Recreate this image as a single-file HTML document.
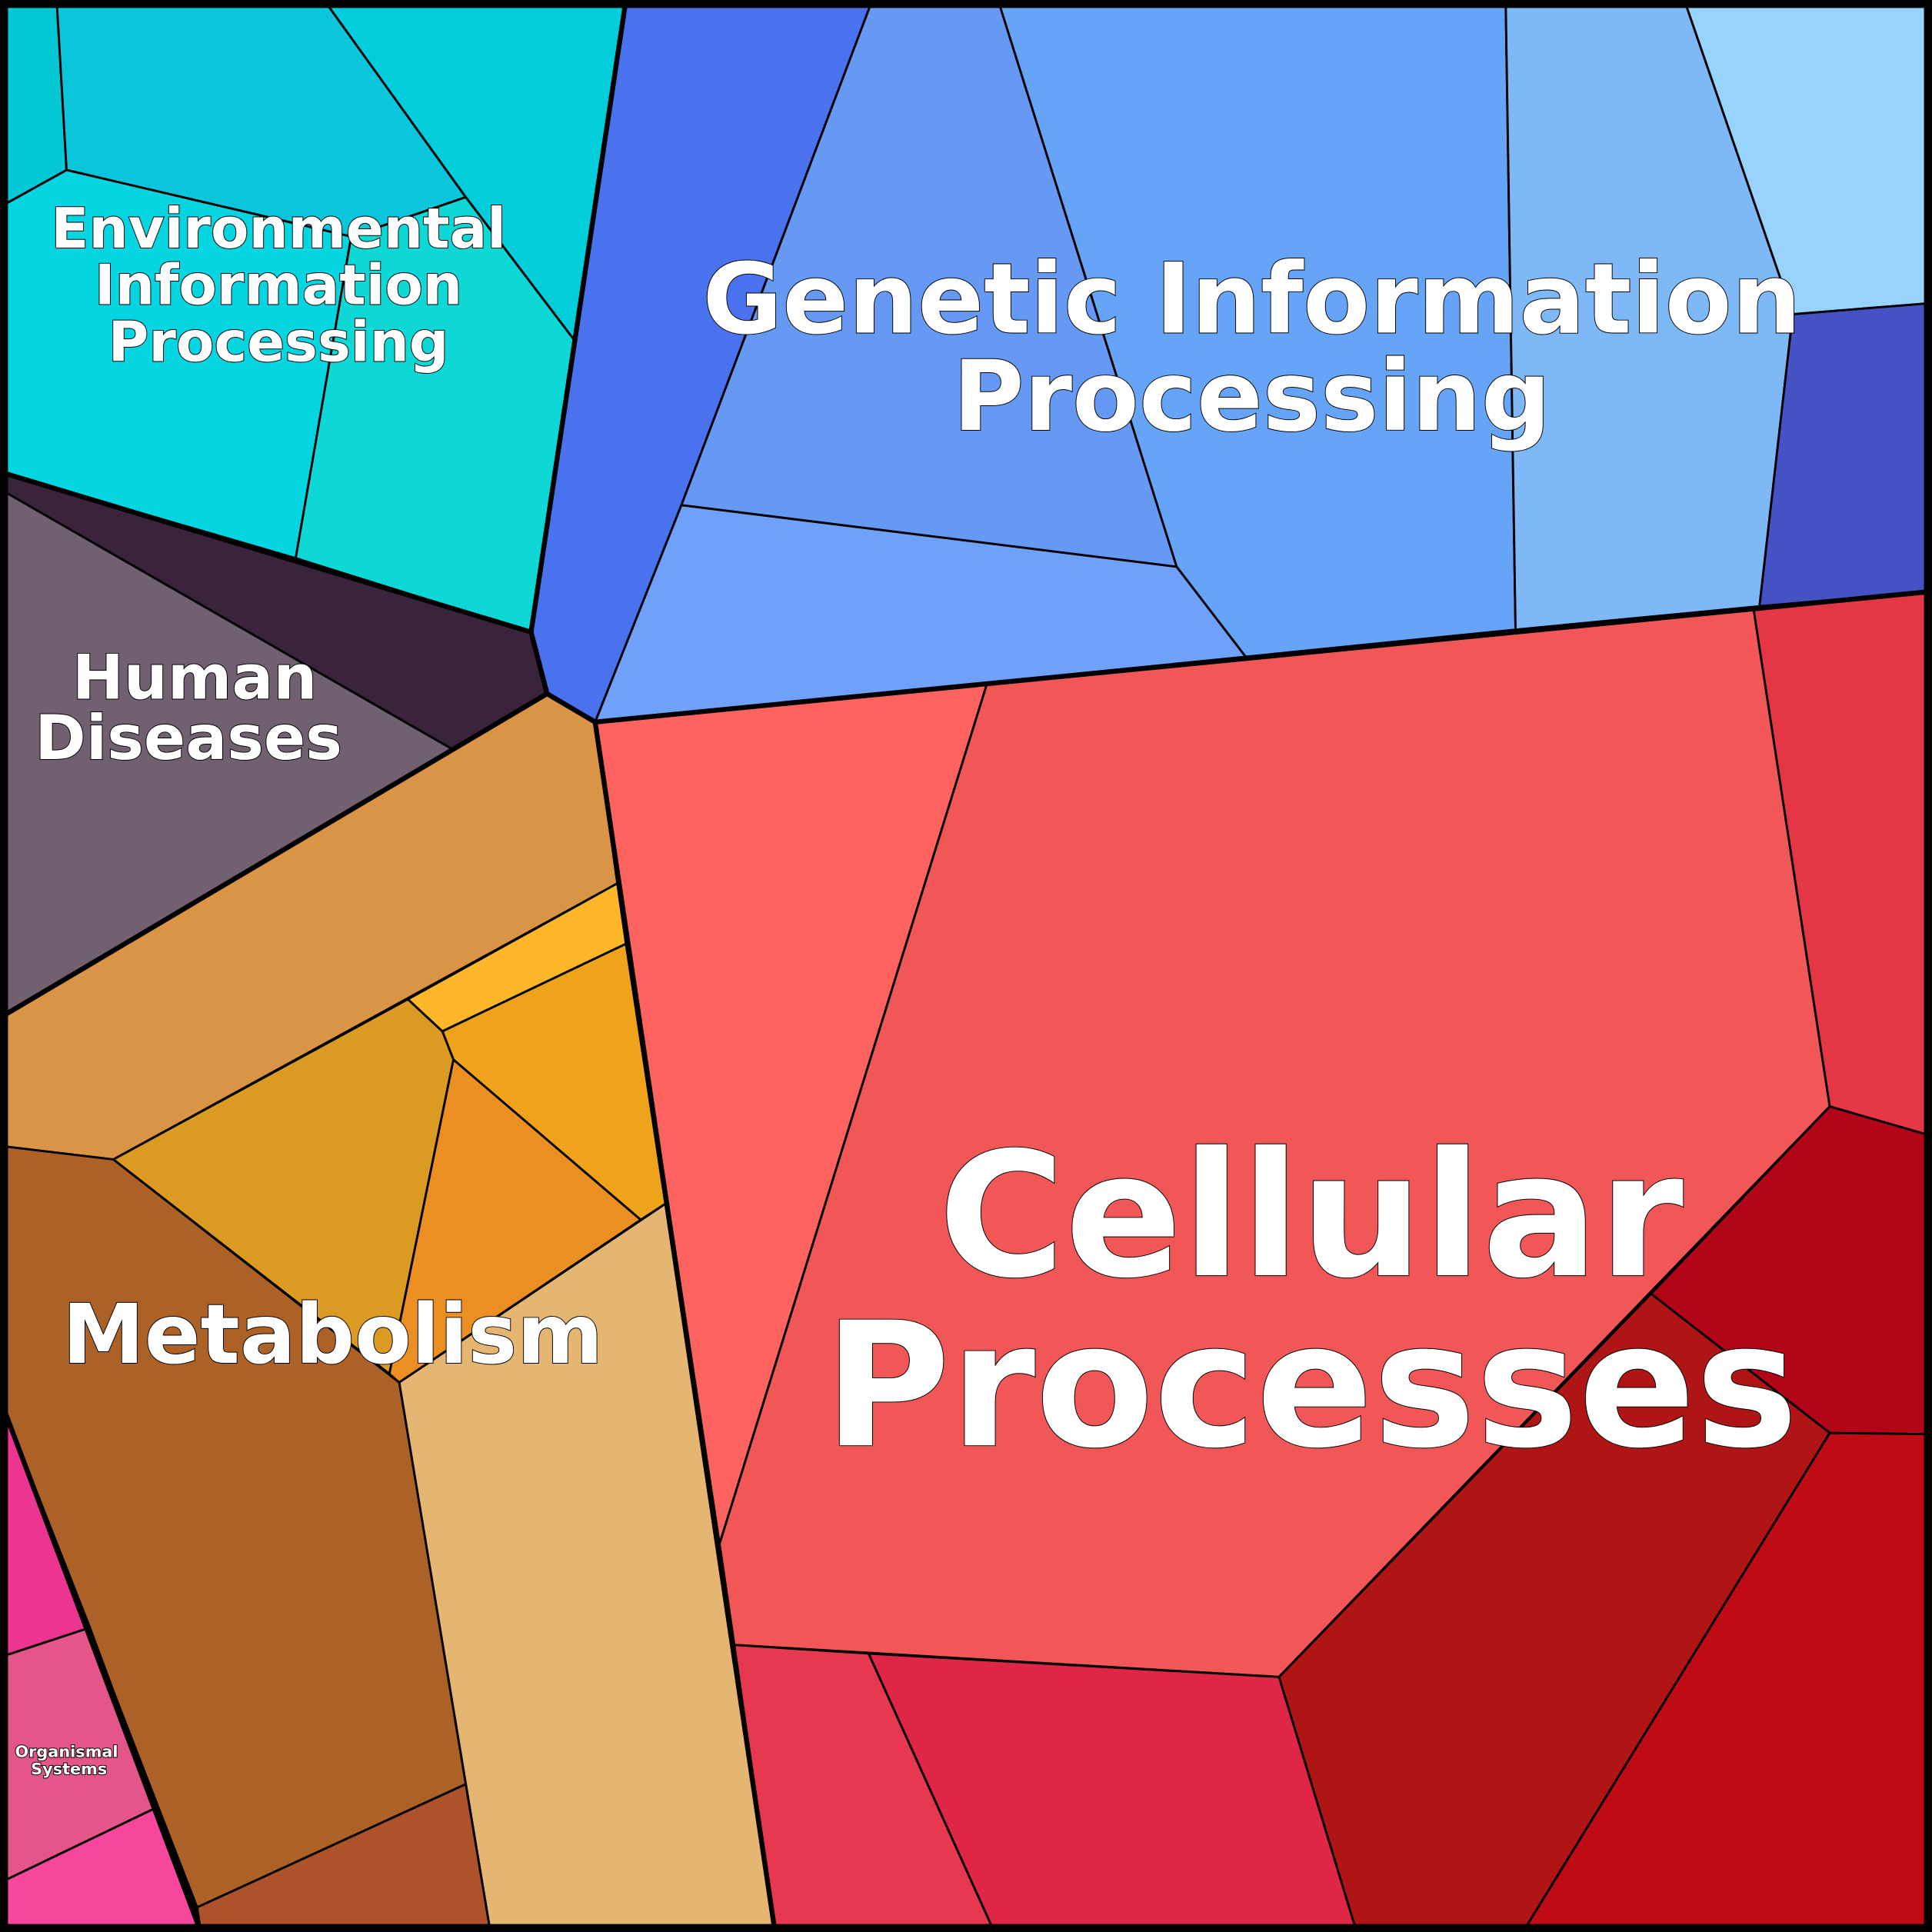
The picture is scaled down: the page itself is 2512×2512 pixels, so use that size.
<!DOCTYPE html>
<html><head><meta charset="utf-8"><style>
html,body{margin:0;padding:0;background:#000}
svg{display:block}
text{font-family:"DejaVu Sans","Liberation Sans",sans-serif;font-weight:bold;fill:#fff;stroke:#000;stroke-width:1.2;paint-order:stroke;text-anchor:middle}
</style></head><body>
<svg width="2512" height="2512" viewBox="0 0 1568 1568" xmlns="http://www.w3.org/2000/svg">
<g stroke="#000" stroke-width="1.8" stroke-linejoin="round">
<polygon fill="#05c8d6" points="0,0 46,0 54,138 0,168"/>
<polygon fill="#0bc5db" points="46,0 263,0 378,160 285,192 54,138"/>
<polygon fill="#02cdda" points="263,0 508,0 466,276 378,160"/>
<polygon fill="#05d5e0" points="0,168 54,138 285,192 240,453 0,383"/>
<polygon fill="#0dd8d5" points="378,160 466,276 431,513 240,453 285,192"/>
<polygon fill="#3a243c" points="0,383 431,513 444,563 367,608 0,397"/>
<polygon fill="#706070" points="0,397 367,608 0,826"/>
<polygon fill="#4a72ee" points="508,0 708,0 553,410 483,586 444,563 431,513"/>
<polygon fill="#6599f4" points="708,0 810,0 955,460 553,410"/>
<polygon fill="#70a1fa" points="553,410 955,460 1011,533 483,586"/>
<polygon fill="#66a4f8" points="810,0 1222,0 1230,511 1011,533 955,460"/>
<polygon fill="#7eb8f6" points="1222,0 1367,0 1455,255 1428,492 1230,511"/>
<polygon fill="#98d3fe" points="1367,0 1568,0 1568,246 1455,255"/>
<polygon fill="#4452c4" points="1455,255 1568,246 1568,480 1428,492"/>
<polygon fill="#fe6360" points="483,586 801,555 584,1253"/>
<polygon fill="#f25757" points="801,555 1423,493 1485,898 1038,1361 596,1335 584,1253"/>
<polygon fill="#e43645" points="1423,493 1568,480 1568,922 1485,898"/>
<polygon fill="#b30518" points="1485,898 1568,922 1568,1164 1485,1163 1340,1050"/>
<polygon fill="#b01515" points="1340,1050 1485,1163 1236,1568 1101,1568 1038,1361"/>
<polygon fill="#c00a16" points="1485,1163 1568,1164 1568,1568 1236,1568"/>
<polygon fill="#e83850" points="596,1335 705,1342 807,1568 629,1568"/>
<polygon fill="#e02646" points="705,1342 1038,1361 1101,1568 807,1568"/>
<polygon fill="#da9446" points="0,826 444,563 483,586 501,717 92,941 0,930"/>
<polygon fill="#feb728" points="501,717 508,766 359,837 331,811"/>
<polygon fill="#eea31a" points="508,766 540,977 520,990 368,860 359,837"/>
<polygon fill="#db9a22" points="331,811 359,837 368,860 316,1115 92,941"/>
<polygon fill="#eb8f22" points="368,860 520,990 324,1122 316,1115"/>
<polygon fill="#e5b672" points="540,977 629,1568 398,1568 324,1122"/>
<polygon fill="#ac6227" points="0,930 92,941 324,1122 378,1448 160,1548 0,1135"/>
<polygon fill="#ae522c" points="160,1548 378,1448 398,1568 163,1568"/>
<polygon fill="#ec3590" points="0,1135 73,1321 0,1345"/>
<polygon fill="#e4568a" points="0,1345 73,1321 127,1467 0,1528"/>
<polygon fill="#f7479d" points="0,1528 127,1467 163,1568 0,1568"/>
</g>
<g fill="none" stroke="#000" stroke-width="4" stroke-linejoin="round">
<polyline points="0,383 431,513 508,0"/>
<polyline points="431,513 444,563 483,586 1568,480"/>
<polyline points="0,826 444,563"/>
<polyline points="483,586 629,1568"/>
<polyline points="0,1135 163,1568"/>
<rect x="3" y="3" width="1562" height="1562" stroke-width="7"/>
</g>
<g>
<text x="226" y="201" font-size="45">Environmental</text>
<text x="226" y="247" font-size="45">Information</text>
<text x="226" y="293" font-size="45">Processing</text>
<text x="1016" y="270" font-size="79" stroke-width="1.5">Genetic Information</text>
<text x="1016" y="349" font-size="79" stroke-width="1.5">Processing</text>
<text x="158" y="567" font-size="50">Human</text>
<text x="153" y="616" font-size="50">Diseases</text>
<text x="270" y="1106" font-size="67">Metabolism</text>
<text x="1064" y="1035" font-size="140" stroke-width="2">Cellular</text>
<text x="1064" y="1173" font-size="140" stroke-width="2">Processes</text>
<text x="54" y="1426" font-size="13" stroke-width="0.8">Organismal</text>
<text x="56" y="1440" font-size="13" stroke-width="0.8">Systems</text>
</g>
</svg>
</body></html>
